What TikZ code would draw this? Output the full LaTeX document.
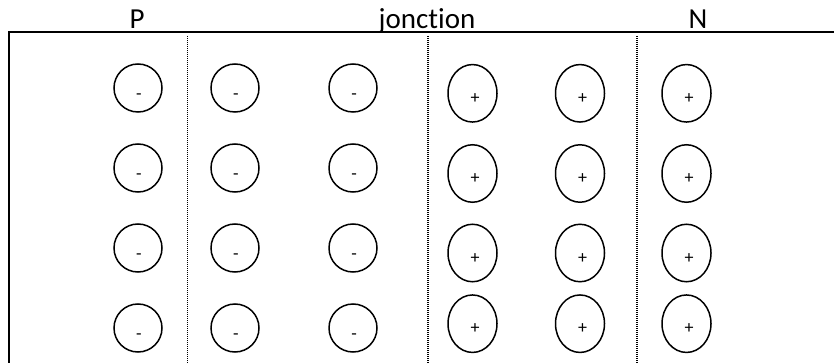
\documentclass[tikz,border=0pt]{standalone}
\usepackage{fontspec}
\setmainfont[Ligatures=NoCommon]{Carlito}
\usetikzlibrary{shapes.geometric,calc}
\begin{document}
\begin{tikzpicture}[x=1pt,y=-1pt]
\tikzset{
  frame/.style={line width=1.6pt},
  divider/.style={line width=1.2pt, dash pattern=on 1pt off 1pt},
  hole/.style={circle, draw, line width=1.5pt, minimum size=48pt, inner sep=0pt},
  ion/.style={ellipse, draw, line width=1.5pt, minimum width=49pt, minimum height=57.5pt, inner sep=0pt},
  sign/.style={anchor=base, inner sep=0pt, font=\fontsize{18}{18}\selectfont},
  title/.style={anchor=base, inner sep=0pt, font=\fontsize{29}{30}\selectfont}
}
\useasboundingbox (0,0) rectangle (834,363);
% frame
\coordinate (tl) at (9,32.3);
\coordinate (tr) at (834,32.3);
\coordinate (bl) at (9,363);
\draw[frame] (tr) -- (tl) -- (bl);
% dividers
\foreach \i/\x in {1/187.3,2/428,3/637}{
  \coordinate (d\i t) at (\x,36);
  \coordinate (d\i b) at (\x,363);
  \draw[divider] (d\i t) -- (d\i b);
}
% titles
\node[title] (P) at (137,29) {P};
\node[title] (J) at (427,29) {jonction};
\node[title] (N) at (698,29) {N};
% minus circles
\foreach \c/\x in {1/138,2/235,3/353}{
  \foreach \r/\y in {1/88,2/168,3/248,4/328}{
    \node[hole] (m\c\r) at (\x,\y) {};
    \node[sign] (ms\c\r) at ($(m\c\r.center)+(1,11.7)$) {-};
  }
}
% plus ellipses
\foreach \c/\x in {4/472.5,5/580,6/686.5}{
  \foreach \r/\y in {1/93.3,2/173.5,3/253,4/323.7}{
    \node[ion] (p\c\r) at (\x,\y) {};
    \node[sign] (ps\c\r) at ($(p\c\r.center)+(2.5,10)$) {+};
  }
}
\end{tikzpicture}
\end{document}
